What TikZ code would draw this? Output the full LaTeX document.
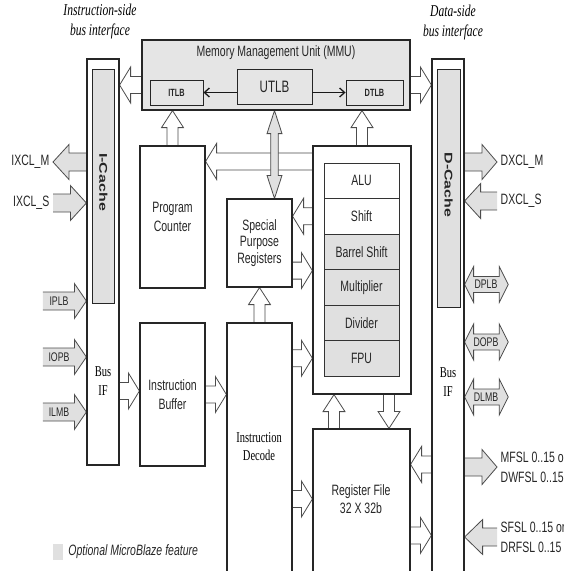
\documentclass[tikz,border=0pt]{standalone}
\usepackage{graphicx}
\usepackage{fontspec}
\setmainfont{Liberation Serif}[FakeStretch=0.7]
\newfontfamily\archfont{Liberation Sans}[FakeStretch=0.7]
\newfontfamily\cachefont{Liberation Sans}
\usetikzlibrary{positioning,calc,arrows.meta,backgrounds}

\tikzset{
  arrow shaft/.store in=\arshaft,
  arrow head/.store in=\arhead,
  arrow len/.store in=\arlen,
  harrow/.style={arrow shaft=8.5pt,arrow head=18pt,arrow len=11pt},
  varrow/.style={arrow shaft=5.5pt,arrow head=11pt,arrow len=17pt},
  busarrow/.style={arrow shaft=9pt,arrow head=17.5pt,arrow len=16pt},
  hollow/.style={draw=black!70,line width=0.8pt,fill=white},
  shaded/.style={draw=black!70,line width=0.8pt,fill=black!12},
  block/.style={draw=black!85,line width=1.2pt,inner sep=0pt,align=center,text=black!85,
    font=\archfont\fontsize{15}{18.5}\selectfont},
  unit/.style={draw=black!80,line width=0.7pt,minimum width=75pt,minimum height=35.5pt,
    inner sep=0pt,text=black!85,font=\archfont\fontsize{15}{18}\selectfont},
  lbl/.style={inner sep=3.5pt,text=black!85,align=left,font=\archfont\fontsize{15}{20}\selectfont},
  buslbl/.style={inner sep=0pt,text=black!85,font=\archfont\fontsize{12.5}{14}\selectfont},
  serif/.style={inner sep=0pt,align=center,font=\fontsize{15}{19}\selectfont},
  head/.style={inner sep=0pt,align=center,font=\itshape\fontsize{16.5}{20}\selectfont},
  tlb/.style={-{Straight Barb[length=5pt,width=9pt]},line width=1.3pt,black!90},
}

% block arrow: [size]{look}{from}{to}
\newcommand\blockarr[4][harrow]{%
  \begin{scope}[on background layer,#1]
    \coordinate (bh) at ($(#4)!\arlen!(#3)$);
    \path[#2] ($(#3)!\arshaft!90:(#4)$) -- ($(bh)!\arshaft!90:(#4)$) -- ($(bh)!\arhead!90:(#4)$) -- (#4)
      -- ($(bh)!\arhead!-90:(#4)$) -- ($(bh)!\arshaft!-90:(#4)$) -- ($(#3)!\arshaft!-90:(#4)$);
  \end{scope}}
% double headed block arrow
\newcommand\dblockarr[4][harrow]{%
  \begin{scope}[on background layer,#1]
    \coordinate (bha) at ($(#3)!\arlen!(#4)$);
    \coordinate (bhb) at ($(#4)!\arlen!(#3)$);
    \path[#2] (#3) -- ($(bha)!\arhead!90:(#4)$) -- ($(bha)!\arshaft!90:(#4)$) -- ($(bhb)!\arshaft!90:(#4)$)
      -- ($(bhb)!\arhead!90:(#4)$) -- (#4) -- ($(bhb)!\arhead!-90:(#4)$) -- ($(bhb)!\arshaft!-90:(#4)$)
      -- ($(bha)!\arshaft!-90:(#4)$) -- ($(bha)!\arhead!-90:(#4)$) -- cycle;
  \end{scope}}

\begin{document}
\begin{tikzpicture}[x=1pt,y=-1pt]
\useasboundingbox (0,0) rectangle (564,571);
\clip (0,0) rectangle (564,571);

% headers
\node[head] (ihead) at (100,22) {Instruction-side\\bus interface};
\node[head] (dhead) at (453,23) {Data-side\\bus interface};

% MMU
\node[block,fill=black!10,minimum width=268pt,minimum height=70pt] (mmu) at (276,75) {};
\node[lbl,inner sep=0pt] (mmutitle) at (276,53) {Memory Management Unit (MMU)};
\node[block,line width=0.9pt,minimum width=53pt,minimum height=25pt,
  font=\archfont\bfseries\fontsize{10.5}{12}\selectfont] (itlb) at (176.5,92.5) {ITLB};
\node[block,line width=0.9pt,minimum width=75pt,minimum height=35pt,
  font=\archfont\fontsize{16.5}{18}\selectfont] (utlb) at (274.5,86.5) {UTLB};
\node[block,line width=0.9pt,minimum width=57pt,minimum height=25pt,
  font=\archfont\bfseries\fontsize{10.5}{12}\selectfont] (dtlb) at (374.5,92.5) {DTLB};
\draw[tlb] (utlb.west |- itlb) -- (itlb.east);
\draw[tlb] (utlb.east |- dtlb) -- (dtlb.west);

% bus interfaces
\node[block,minimum width=32pt,minimum height=406pt] (busI) at (103,262) {};
\node[block,fill=black!12,line width=0.8pt,minimum width=22pt,minimum height=234pt] (icache) at (103,186) {};
\node[rotate=-90,inner sep=0pt,text=black!85,font=\cachefont\bfseries\fontsize{16}{16}\selectfont]
  (icachetxt) at (103.5,182) {\scalebox{1}[0.7]{I-Cache}};
\node[serif] (busItxt) at (103,381) {Bus\\IF};
\node[block,minimum width=32pt,minimum height=526pt] (busD) at (448,322) {};
\node[block,fill=black!12,line width=0.8pt,minimum width=23pt,minimum height=238pt] (dcache) at (448.5,188) {};
\node[rotate=-90,inner sep=0pt,text=black!85,font=\cachefont\bfseries\fontsize{16}{16}\selectfont]
  (dcachetxt) at (448.5,185) {\scalebox{1}[0.7]{D-Cache}};
\node[serif] (busDtxt) at (448,382) {Bus\\IF};

% core blocks
\node[block,minimum width=65pt,minimum height=142pt] (pc) at (172.5,217) {Program\\Counter};
\node[block,minimum width=65pt,minimum height=143pt] (ibuf) at (172.5,394.5) {Instruction\\Buffer};
\node[block,minimum width=65pt,minimum height=88pt,font=\archfont\fontsize{15}{16.5}\selectfont]
  (spr) at (259.5,243) {Special\\Purpose\\Registers};
\node[block,minimum width=65pt,minimum height=262pt] (idec) at (259.5,454) {};
\node[serif,font=\fontsize{15}{18}\selectfont] (idectxt) at (259,447) {Instruction\\Decode};
\node[block,minimum width=98pt,minimum height=248pt] (exu) at (362,270) {};
\foreach \name/\lab/\shade [count=\i from 0] in {alu/ALU/white,shft/Shift/white,
    bshift/Barrel Shift/black!12,mult/Multiplier/black!12,div/Divider/black!12,fpu/FPU/black!12}
  \node[unit,fill=\shade] (\name) at (361.5,{180.75+35.5*\i}) {\lab};
\node[block,minimum width=97pt,minimum height=156pt] (regf) at (361.5,507) {};
\node[block,draw=none] (regftxt) at (361,499) {Register File\\32 X 32b};

% internal arrows
\coordinate (mi) at ($(mmu.west)+(0,10)$);
\blockarr{hollow}{mi}{busI.east |- mi}
\coordinate (md) at ($(mmu.east)+(0,10)$);
\blockarr{hollow}{md}{busD.west |- md}
\blockarr[varrow]{hollow}{pc.north}{pc.north |- mmu.south}
\blockarr[varrow]{hollow}{exu.north}{exu.north |- mmu.south}
\coordinate (ep) at ($(exu.north west)+(0,16)$);
\blockarr{hollow}{ep}{pc.east |- ep}
\dblockarr[varrow,arrow shaft=3.8pt,arrow head=7.5pt,arrow len=23pt]{shaded}{utlb.south |- mmu.south}{utlb.south |- spr.north}
\blockarr{hollow}{exu.west |- shft}{spr.east |- shft}
\coordinate (se) at ($(spr.south east)+(0,-17)$);
\blockarr{hollow}{se}{exu.west |- se}
\blockarr[varrow]{hollow}{idec.north}{idec.north |- spr.south}
\blockarr{hollow}{idec.east |- fpu}{exu.west |- fpu}
\blockarr{hollow}{idec.east |- regftxt}{regf.west |- regftxt}
\coordinate (bi) at ($(ibuf.west)+(0,-3.5)$);
\blockarr{hollow}{busI.east |- bi}{bi}
\blockarr{hollow}{ibuf.east}{idec.west |- ibuf.east}
\coordinate (xr) at ($(exu.south)+(27,0)$);
\blockarr[varrow]{hollow}{xr}{xr |- regf.north}
\coordinate (rx) at ($(regf.north)+(-27.5,0)$);
\blockarr[varrow]{hollow}{rx}{rx |- exu.south}
\coordinate (dr) at ($(regf.north east)+(0,36)$);
\blockarr{hollow}{busD.west |- dr}{dr}
\coordinate (rd) at ($(regf.north east)+(0,107)$);
\blockarr{hollow}{rd}{busD.west |- rd}

% instruction side ports
\node[lbl,anchor=east] (ixclm) at (53,162) {IXCL\_M};
\blockarr[busarrow]{shaded}{busI.west |- ixclm}{ixclm.east}
\node[lbl,anchor=east] (ixcls) at (53,203) {IXCL\_S};
\blockarr[busarrow]{shaded}{ixcls.east}{busI.west |- ixcls}
\foreach \name/\lab/\y in {iplb/IPLB/301,iopb/IOPB/357,ilmb/ILMB/412}{
  \node[buslbl,minimum width=32pt] (\name) at (59,\y) {\lab};
  \blockarr[busarrow,arrow len=12pt]{shaded}{\name.west}{busI.west |- \name.west}
}

% data side ports
\node[lbl,anchor=west] (dxclm) at (497,162) {DXCL\_M};
\blockarr[busarrow,arrow len=15pt]{shaded}{busD.east |- dxclm}{dxclm.west}
\node[lbl,anchor=west] (dxcls) at (497,201) {DXCL\_S};
\blockarr[busarrow]{shaded}{dxcls.west}{busD.east |- dxcls}
\foreach \name/\lab/\y in {dplb/DPLB/284.5,dopb/DOPB/342,dlmb/DLMB/397}{
  \node[buslbl,minimum width=44pt] (\name) at (486,\y) {\lab};
  \dblockarr[busarrow,arrow shaft=8pt,arrow head=18pt,arrow len=9pt]{shaded}{busD.east |- \name.east}{\name.east}
}
\node[lbl,anchor=west] (mfsl) at (497,467) {MFSL 0..15 or\\DWFSL 0..15};
\blockarr[busarrow,arrow len=15pt]{shaded}{busD.east |- mfsl}{mfsl.west}
\node[lbl,anchor=west] (sfsl) at (497,537) {SFSL 0..15 or\\DRFSL 0..15};
\blockarr[busarrow,arrow len=18pt]{shaded}{sfsl.west}{busD.east |- sfsl}

% legend
\node[fill=black!12,minimum width=10pt,minimum height=16pt,inner sep=0pt] (legbox) at (58,552) {};
\node[lbl,right=1.5pt of legbox,font=\archfont\itshape\fontsize{15}{18}\selectfont] (legtxt) {Optional MicroBlaze feature};
\end{tikzpicture}
\end{document}
